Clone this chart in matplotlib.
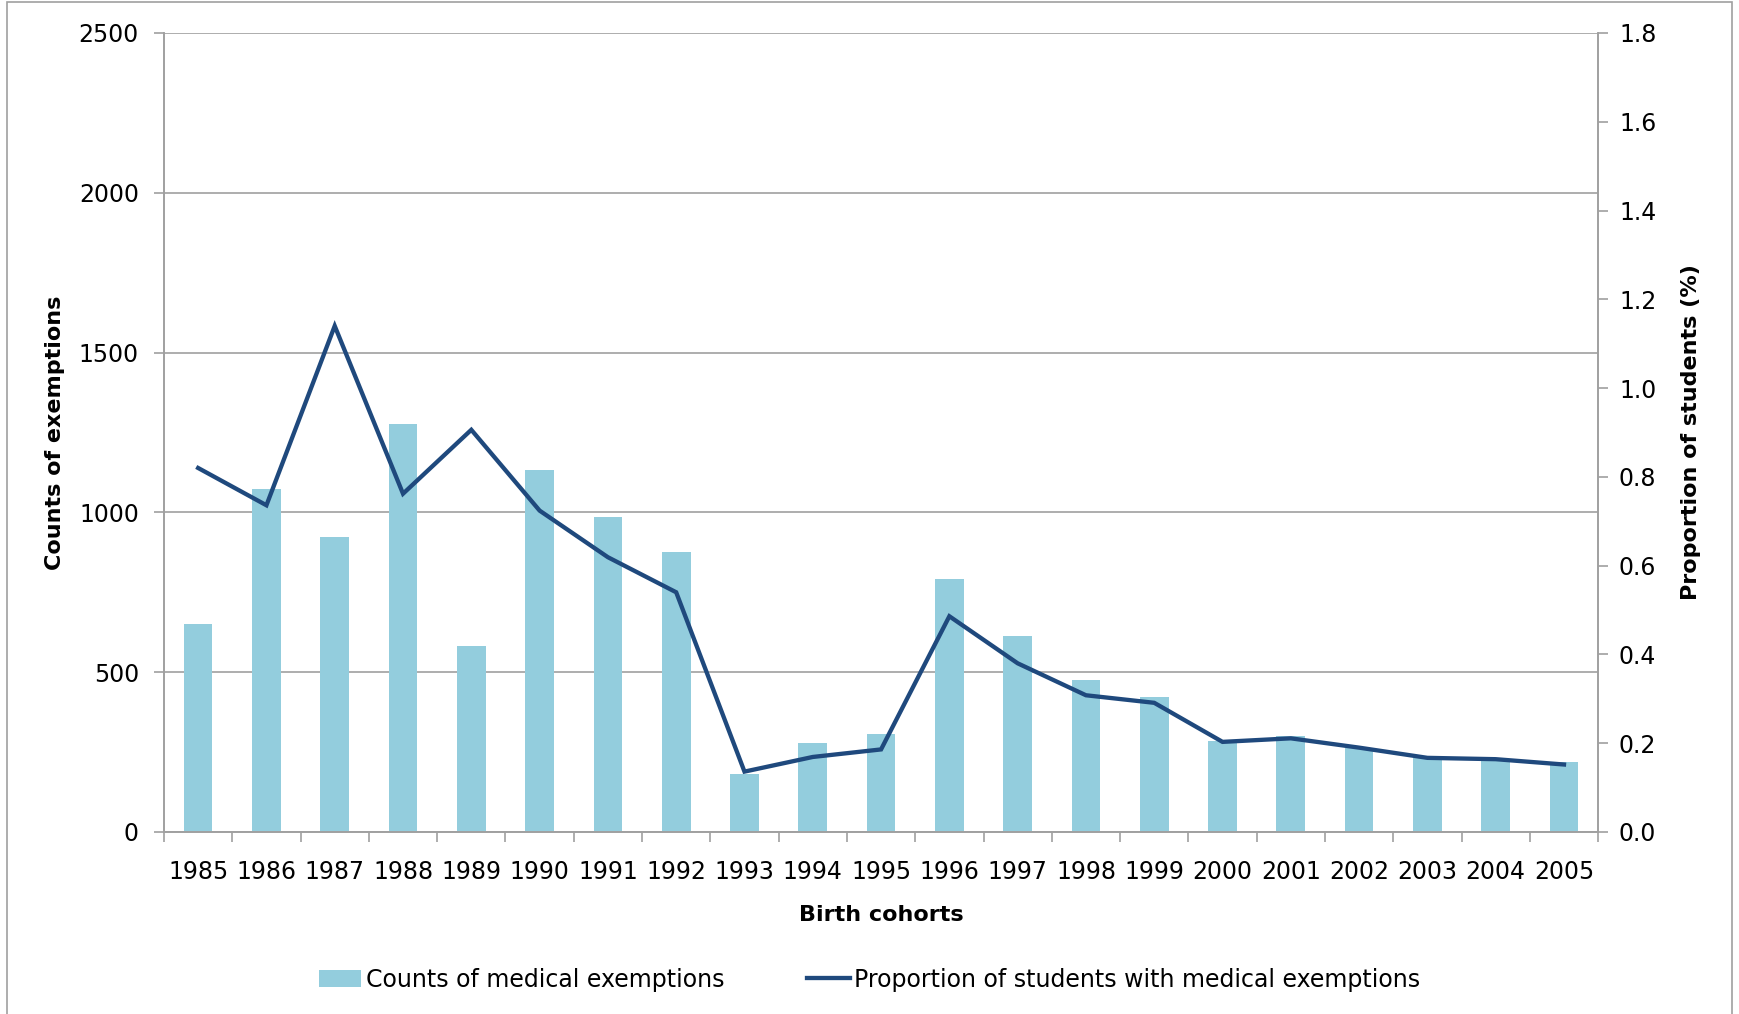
import matplotlib.pyplot as plt
from matplotlib.patches import Rectangle
from matplotlib.ticker import FixedLocator, NullFormatter

cohorts = [str(y) for y in range(1985, 2006)]
counts = [651, 1073, 923, 1278, 582, 1132, 987, 877, 180, 277, 308,
          793, 612, 477, 422, 285, 300, 264, 232, 224, 220]
proportion = [0.820, 0.736, 1.140, 0.762, 0.906, 0.724, 0.619, 0.540, 0.136,
              0.169, 0.186, 0.486, 0.380, 0.308, 0.291, 0.203, 0.211, 0.190,
              0.167, 0.164, 0.152]

bar_color = "#93CDDD"
line_color = "#1F497D"
axis_grey = "#A0A0A0"
label_font = ["DejaVu Sans"]

fig = plt.figure(figsize=(17.39, 10.14), dpi=100)
ax = fig.add_axes([0.0943, 0.1795, 0.8247, 0.788])
ax2 = ax.twinx()

x = list(range(len(cohorts)))
bars = ax.bar(x, counts, width=0.42, color=bar_color, zorder=2,
              label="Counts of medical exemptions")
line, = ax2.plot(x, proportion, color=line_color, lw=3.1,
                 solid_joinstyle="miter",
                 label="Proportion of students with medical exemptions")

ax.set_xlim(-0.5, len(cohorts) - 0.5)
ax.set_ylim(0, 2500)
ax.set_yticks(range(0, 2501, 500))
ax2.set_ylim(0, 1.8)
ax2.set_yticks([i / 10 for i in range(0, 19, 2)])
ax2.set_yticklabels([f"{i / 10:.1f}" for i in range(0, 19, 2)])

# category ticks sit between cohorts, labels at the centres
ax.xaxis.set_major_locator(FixedLocator([i - 0.5 for i in range(len(cohorts) + 1)]))
ax.xaxis.set_major_formatter(NullFormatter())
ax.xaxis.set_minor_locator(FixedLocator(x))
ax.set_xticklabels(cohorts, minor=True)
ax.tick_params(axis="x", which="major", direction="out", length=7,
               color=axis_grey, width=1.2)
ax.tick_params(axis="x", which="minor", length=0, pad=20, labelsize=17)
ax.tick_params(axis="y", direction="out", length=7, color=axis_grey,
               width=1.2, pad=11, labelsize=17)
ax2.tick_params(axis="y", direction="out", length=7, color=axis_grey,
                width=1.2, pad=8, labelsize=17)

ax.grid(axis="y", color=axis_grey, lw=1.2, zorder=0)
ax.set_axisbelow(True)
for a in (ax, ax2):
    a.spines["top"].set_visible(False)
    for s in ("left", "right", "bottom"):
        a.spines[s].set_color(axis_grey)
        a.spines[s].set_linewidth(1.2)

ax.set_xlabel("Birth cohorts", fontsize=16, fontweight="bold",
              family=label_font, labelpad=15)
ax.set_ylabel("Counts of exemptions", fontsize=16, fontweight="bold",
              family=label_font, labelpad=10)
ax2.set_ylabel("Proportion of students (%)", fontsize=16, fontweight="bold",
               family=label_font, labelpad=18)

fig.legend(handles=[bars, line], loc="center", bbox_to_anchor=(0.5, 0.034),
           ncol=2, frameon=False, prop={"family": label_font, "size": 17},
           handlelength=1.8, handletextpad=0.2, columnspacing=3.5)

fig.patches.append(Rectangle((0.004, -0.01), 0.992, 1.008,
                             transform=fig.transFigure, fill=False,
                             edgecolor=axis_grey, lw=1.2))

fig.savefig("out.png", dpi=100)
